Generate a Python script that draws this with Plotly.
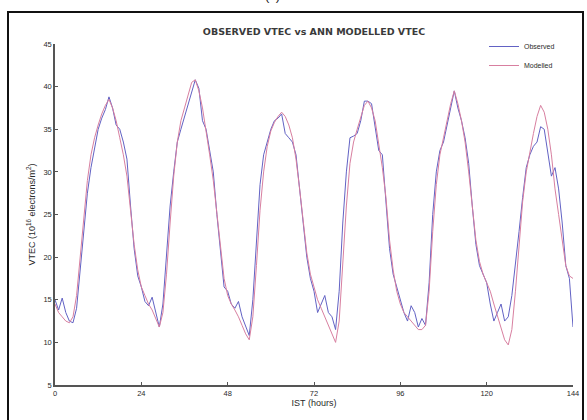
import plotly.graph_objects as go

hours = list(range(0, 145))

observed = [
    15.0, 13.8, 15.2, 13.5, 12.5, 12.3, 14.0, 18.5, 23.5, 27.5,
    30.5, 33.0, 35.0, 36.3, 37.3, 38.8, 37.5, 35.5, 35.0, 33.5,
    31.5, 26.0, 21.0, 17.8, 16.5, 14.8, 14.3, 15.3, 13.5, 11.8,
    14.5, 20.0, 26.0, 30.0, 33.5, 35.0, 36.5, 38.0, 39.5, 40.8,
    39.8, 36.0, 35.0, 32.5, 30.0, 25.0, 20.5, 16.5, 16.0, 14.5,
    14.0, 14.8, 13.0, 12.0, 10.8, 15.0, 22.0, 28.5, 32.0, 33.5,
    35.0, 36.0, 36.3, 36.8, 34.5, 34.0, 33.5, 32.0, 28.0, 23.5,
    20.0, 17.5, 16.0, 13.5, 14.5, 15.5, 13.5, 13.0, 11.5, 16.0,
    24.0, 30.0, 34.0, 34.2, 34.5, 36.0, 38.3, 38.3, 38.0, 35.0,
    32.5, 32.0, 26.0, 21.0, 18.0, 16.5, 15.0, 13.5, 12.5, 14.3,
    13.5, 11.8, 12.8, 12.0, 17.0, 25.0, 30.0, 32.5, 33.5, 35.5,
    37.5, 39.5, 37.5, 36.0, 34.0, 31.0, 26.0, 21.5, 19.0, 18.0,
    17.0, 14.5, 12.5, 13.5, 14.5, 12.5, 13.0, 15.5, 19.0, 23.0,
    27.0, 30.5, 32.0, 33.0, 33.5, 35.3, 35.0, 32.0, 29.5, 30.5,
    28.0, 24.0, 19.0, 17.5, 11.8,
]

modelled = [
    14.5, 13.5, 13.0, 12.5, 12.3, 13.0, 15.5, 20.0, 25.0, 29.0,
    32.0, 34.0, 35.5, 36.8, 37.8, 38.5, 37.5, 36.0, 34.0, 32.0,
    29.5, 25.5, 21.5, 18.5, 16.5, 15.5, 14.5, 13.8, 12.8, 11.8,
    13.5, 18.0, 24.0, 29.5, 33.5, 36.0, 37.5, 39.0, 40.5, 40.8,
    39.5, 37.5, 35.0, 32.0, 29.0, 25.0, 21.0, 17.5, 15.5, 14.5,
    13.8, 13.0, 12.0, 11.0, 10.3, 13.0, 19.0, 25.5, 30.0, 33.0,
    34.8, 35.8, 36.5, 37.0, 36.5, 35.5, 34.0, 31.5, 28.0, 24.0,
    20.5, 18.0, 16.5, 15.0, 14.0, 13.0, 12.0, 11.0, 10.0, 12.5,
    19.0, 26.0, 31.0, 33.5, 35.0, 36.5, 37.8, 38.3, 37.5, 36.0,
    33.5, 30.5, 27.0, 22.0, 18.5, 16.0, 14.5, 13.5, 13.0, 12.5,
    12.0, 11.5, 11.5, 12.0, 16.0, 23.0, 28.5, 32.0, 34.0, 36.0,
    38.0, 39.5, 38.0, 36.0, 33.5, 30.0, 26.0, 22.0, 19.5, 18.0,
    17.0, 16.0, 14.5, 13.0, 11.5, 10.3, 9.7, 11.5, 16.0, 21.5,
    26.5, 30.0, 32.5, 34.5, 36.5, 37.8, 37.0, 35.0, 32.0, 28.0,
    25.0, 22.0, 19.0, 17.8, 17.5,
]

x_ticks = [0, 24, 48, 72, 96, 120, 144]
y_ticks = [5, 10, 15, 20, 25, 30, 35, 40, 45]

fig = go.Figure()
fig.add_trace(go.Scatter(x=hours, y=observed, mode="lines", name="Observed",
                         line=dict(color="#6262c4", width=1.0)))
fig.add_trace(go.Scatter(x=hours, y=modelled, mode="lines", name="Modelled",
                         line=dict(color="#d87fa0", width=1.0)))

W, H = 587, 420
ml, mr, mt, mb = 55, 14, 44, 35
pw, ph = W - ml - mr, H - mt - mb


def px2paper_x(px):
    return (px - ml) / pw


def px2paper_y(py):
    return (H - mb - py) / ph


TXT = "#2a2a2a"

fig.update_layout(
    width=W, height=H,
    margin=dict(l=ml, r=mr, t=mt, b=mb, autoexpand=False),
    paper_bgcolor="white", plot_bgcolor="white",
    font=dict(family="Liberation Sans, Arial, sans-serif", color=TXT),
    title=dict(text="<b>OBSERVED VTEC vs ANN MODELLED VTEC</b>",
               font=dict(family="DejaVu Sans, sans-serif", size=9.5, color="#3a3a3a"),
               x=px2paper_x(314), xref="paper", xanchor="center",
               y=1 - 32 / H, yanchor="middle", automargin=False),
    showlegend=True,
    legend=dict(x=px2paper_x(484), y=px2paper_y(32), xanchor="left", yanchor="top",
                bgcolor="rgba(0,0,0,0)", font=dict(size=7, color=TXT),
                itemwidth=30, tracegroupgap=0),
    xaxis=dict(range=[0, 144], tickvals=x_ticks, ticktext=[str(v) for v in x_ticks],
               showgrid=False, zeroline=False, showline=True, linecolor="#555555",
               linewidth=1.5, ticks="inside", ticklen=3, tickcolor="#555555",
               tickfont=dict(size=7.5, color=TXT), automargin=False,
               title=dict(text="IST (hours)", font=dict(size=9, color=TXT), standoff=2)),
    yaxis=dict(range=[5, 45], tickvals=y_ticks, ticktext=[str(v) for v in y_ticks],
               showgrid=False, zeroline=False, showline=True, linecolor="#555555",
               linewidth=1.5, ticks="inside", ticklen=3, tickcolor="#555555",
               tickfont=dict(size=7.5, color=TXT), automargin=False,
               title=dict(text="VTEC (10<sup>16</sup> electrons/m<sup>2</sup>)",
                          font=dict(size=9, color=TXT), standoff=6)),
)

# outer frame of the figure panel
fig.add_shape(type="rect", xref="paper", yref="paper",
              x0=px2paper_x(8), x1=px2paper_x(583),
              y0=px2paper_y(425), y1=px2paper_y(12),
              line=dict(color="#111111", width=2), fillcolor="rgba(0,0,0,0)", layer="below")

# panel label partly cut off at top
fig.add_annotation(text="(c)", xref="paper", yref="paper",
                   x=px2paper_x(272), y=px2paper_y(-4), showarrow=False,
                   font=dict(size=13, color="#222222"), yanchor="middle")

fig.write_html(
    "out.html",
    config={"displayModeBar": False},
    post_script="document.body.style.margin='0';document.body.style.overflow='hidden';",
)
